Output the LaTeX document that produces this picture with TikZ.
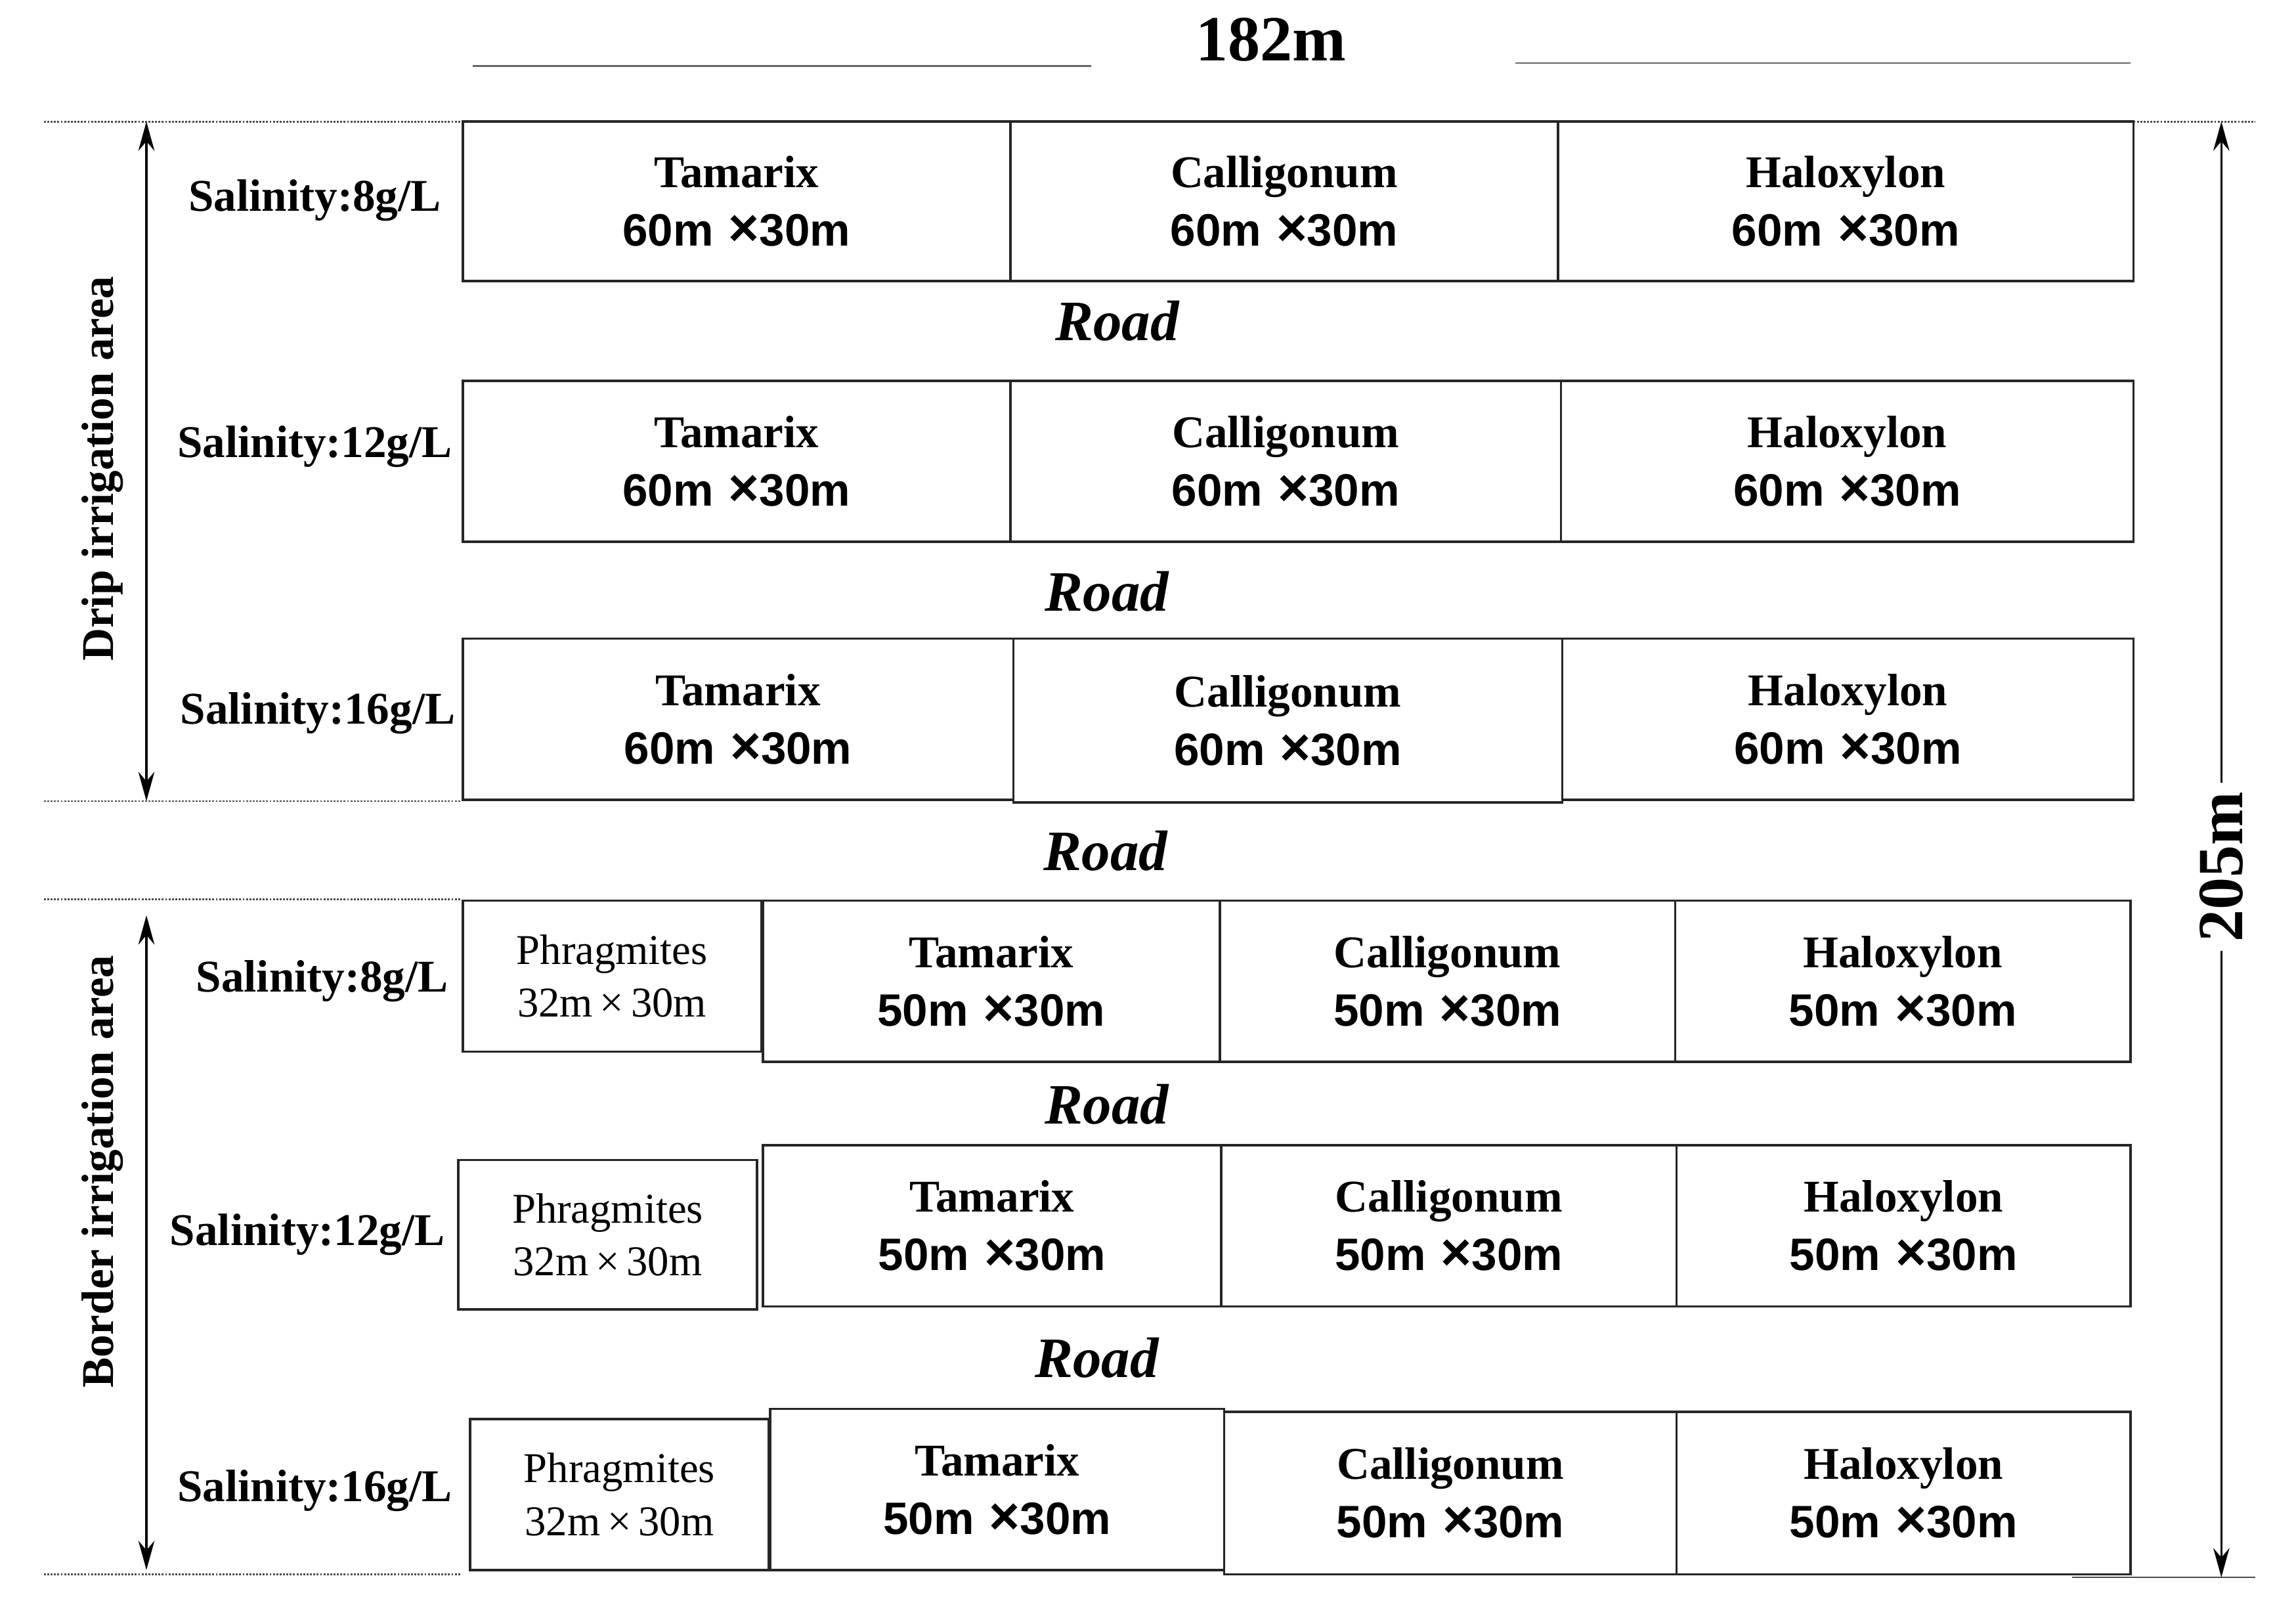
\documentclass[tikz,border=0pt]{standalone}
\usepackage{fontspec}
\setmainfont{Liberation Serif}
\newfontfamily\dimf{Liberation Sans}
\usetikzlibrary{arrows.meta}
\begin{document}
\begin{tikzpicture}[x=1pt,y=-1pt,
 plot/.style={draw=black!85,line width=1.6pt},
 ttl/.style={font=\fontsize{31}{40}\selectfont\bfseries,align=center},
 ph/.style={font=\fontsize{29}{36}\selectfont,align=center},
 sal/.style={font=\fontsize{31}{34}\selectfont\bfseries},
 road/.style={font=\fontsize{39}{40}\selectfont\bfseries\itshape},
 dot/.style={densely dotted,line width=1.3pt,black!70},
 arr/.style={line width=1.6pt,{Stealth[length=20pt,width=11pt]}-{Stealth[length=20pt,width=11pt]}}]
\useasboundingbox (0,0) rectangle (1568,1106);
\newcommand{\plotbox}[6]{\node[plot,ttl,minimum width={#3-#2},minimum height={#5-#4},inner sep=0pt] (#1) at ({(#2+#3)/2},{(#4+#5)/2}) {#6};}
\newcommand{\phbox}[6]{\node[plot,ph,minimum width={#3-#2},minimum height={#5-#4},inner sep=0pt] (#1) at ({(#2+#3)/2},{(#4+#5)/2}) {#6};}
\node[font=\fontsize{44}{46}\selectfont\bfseries] (w) at (868,27) {182m};
\draw[black!60,line width=1.2pt] (323,45) -- (745,45) (1035,43) -- (1455,43);
\draw[dot] (30,83) -- (315,83) (30,547) -- (315,547) (30,614) -- (315,614) (30,1075) -- (315,1075);
\draw[dot] (1457,83) -- (1540,83);
\draw[black!70,line width=1.2pt] (1415,1077) -- (1540,1077);
\coordinate (d1) at (100,83); \coordinate (d2) at (100,547);
\draw[arr] (d1) -- (d2);
\node[rotate=90,font=\fontsize{31}{34}\selectfont\bfseries] (dl) at (70,320) {Drip irrigation area};
\coordinate (b1) at (100,625); \coordinate (b2) at (100,1072);
\draw[arr] (b1) -- (b2);
\node[rotate=90,font=\fontsize{31}{34}\selectfont\bfseries] (bl) at (70,800) {Border irrigation area};
\coordinate (r1) at (1517,83); \coordinate (r2) at (1517,1077);
\draw[arr] (r1) -- (r2);
\node[rotate=90,fill=white,inner xsep=6pt,font=\fontsize{44}{46}\selectfont\bfseries] (h) at (1517,592) {205m};
\newcommand{\dimt}[1]{\\{\dimf #1m\,\,{\fontsize{36}{36}\selectfont ×}30m}}
\plotbox{a1}{316}{690}{83}{192}{Tamarix\dimt{60}}
\plotbox{a2}{690}{1064}{83}{192}{Calligonum\dimt{60}}
\plotbox{a3}{1064}{1457}{83}{192}{Haloxylon\dimt{60}}
\plotbox{b1x}{316}{690}{260}{370}{Tamarix\dimt{60}}
\plotbox{b2x}{690}{1066}{260}{370}{Calligonum\dimt{60}}
\plotbox{b3x}{1066}{1457}{260}{370}{Haloxylon\dimt{60}}
\plotbox{c1}{316}{692}{436}{546}{Tamarix\dimt{60}}
\plotbox{c2}{692}{1067}{436}{548}{Calligonum\dimt{60}}
\plotbox{c3}{1067}{1457}{436}{546}{Haloxylon\dimt{60}}
\node[sal] (s1) at (215,137) {Salinity:8g/L};
\node[sal] (s2) at (215,305) {Salinity:12g/L};
\node[sal] (s3) at (217,487) {Salinity:16g/L};
\node[road] (rd1) at (763,219) {Road};
\node[road] (rd2) at (756,404) {Road};
\node[road] (rd3) at (755,581) {Road};
\node[road] (rd4) at (756,754) {Road};
\node[road] (rd5) at (749,927) {Road};
\phbox{p1}{316}{520}{615}{718}{Phragmites\\32m\,×\,30m}
\plotbox{e1}{521}{833}{615}{725}{Tamarix\dimt{50}}
\plotbox{e2}{833}{1144}{615}{725}{Calligonum\dimt{50}}
\plotbox{e3}{1144}{1455}{615}{725}{Haloxylon\dimt{50}}
\phbox{p2}{313}{517}{792}{894}{Phragmites\\32m\,×\,30m}
\plotbox{f1}{521}{834}{782}{892}{Tamarix\dimt{50}}
\plotbox{f2}{834}{1145}{782}{892}{Calligonum\dimt{50}}
\plotbox{f3}{1145}{1455}{782}{892}{Haloxylon\dimt{50}}
\phbox{p3}{321}{525}{969}{1072}{Phragmites\\32m\,×\,30m}
\plotbox{g1}{526}{836}{962}{1072}{Tamarix\dimt{50}}
\plotbox{g2}{836}{1145}{964}{1075}{Calligonum\dimt{50}}
\plotbox{g3}{1145}{1455}{964}{1075}{Haloxylon\dimt{50}}
\node[sal] (t1) at (220,670) {Salinity:8g/L};
\node[sal] (t2) at (210,843) {Salinity:12g/L};
\node[sal] (t3) at (215,1018) {Salinity:16g/L};
\end{tikzpicture}
\end{document}
